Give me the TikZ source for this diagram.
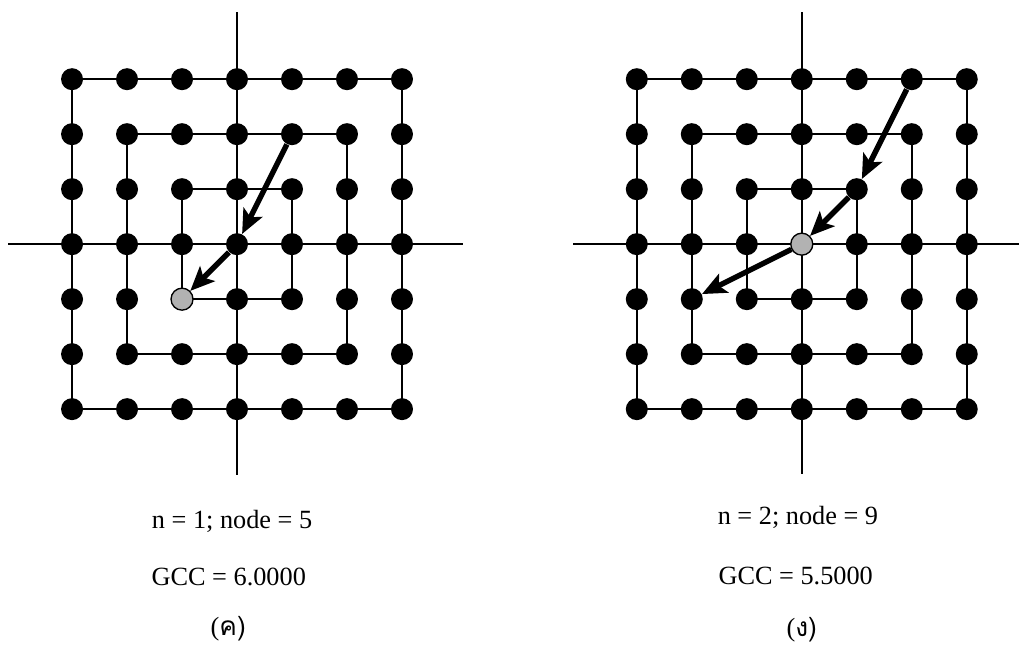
\documentclass[tikz,border=0pt]{standalone}
\usepackage{fontspec}
\setmainfont{Liberation Serif}
\newfontfamily\thaifont[Script=Thai]{Loma}
\usetikzlibrary{arrows.meta,backgrounds}

\begin{document}
\begin{tikzpicture}[
    dot/.style={circle,fill=black,inner sep=0pt,minimum size=0.4cm},
    hot/.style={dot,fill=black!30,draw=black,line width=0.7pt},
    a-2-2/.style={hot},
    b-3-3/.style={hot},
    grid line/.style={line width=1.1pt},
    flow/.style={line width=2.8pt,-{Stealth[length=0.44cm,width=0.38cm,inset=0.1cm]}},
    lab/.style={font=\fontsize{13.6}{16}\selectfont}]
  \useasboundingbox (-4.31,-7.36) rectangle (14.22,4.44);
  % left panel (n = 1)
  \begin{scope}
    \foreach \i in {0,...,6}
      \foreach \j in {0,...,6}
        \node[dot,a-\i-\j/.try] (a-\i-\j) at (\i-3,\j-3) {};
    \coordinate (a-n) at (0,4.22);
    \coordinate (a-s) at (0,-4.2);
    \coordinate (a-w) at (-4.16,0);
    \coordinate (a-e) at (4.11,0);
    \begin{scope}[on background layer]
      \draw[grid line] (a-n) -- (a-s) (a-w) -- (a-e);
      \foreach \lo/\hi in {0/6,1/5,2/4}
        \draw[grid line] (a-\lo-\lo.center) -- (a-\hi-\lo.center)
          -- (a-\hi-\hi.center) -- (a-\lo-\hi.center) -- cycle;
    \end{scope}
    \draw[flow] (a-4-5) -- (a-3-3);
    \draw[flow] (a-3-3) -- (a-2-2);
    \node[lab] (a-t1) at (-0.09,-5.05) {n = 1; node = 5};
    \node[lab] (a-t2) at (-0.15,-6.05) {GCC = 6.0000};
    \node[lab] (a-t3) at (-0.16,-7.0) {(\thaifont ค)};
  \end{scope}
  % right panel (n = 2)
  \begin{scope}[xshift=10.27cm]
    \foreach \i in {0,...,6}
      \foreach \j in {0,...,6}
        \node[dot,b-\i-\j/.try] (b-\i-\j) at (\i-3,\j-3) {};
    \coordinate (b-n) at (0,4.22);
    \coordinate (b-s) at (0,-4.18);
    \coordinate (b-w) at (-4.16,0);
    \coordinate (b-e) at (3.95,0);
    \begin{scope}[on background layer]
      \draw[grid line] (b-n) -- (b-s) (b-w) -- (b-e);
      \foreach \lo/\hi in {0/6,1/5,2/4}
        \draw[grid line] (b-\lo-\lo.center) -- (b-\hi-\lo.center)
          -- (b-\hi-\hi.center) -- (b-\lo-\hi.center) -- cycle;
    \end{scope}
    \draw[flow] (b-5-6) -- (b-4-4);
    \draw[flow] (b-4-4) -- (b-3-3);
    \draw[flow] (b-3-3) -- (b-1-2);
    \node[lab] (b-t1) at (-0.07,-4.96) {n = 2; node = 9};
    \node[lab] (b-t2) at (-0.11,-6.04) {GCC = 5.5000};
    \node[lab] (b-t3) at (0,-7.02) {(\thaifont ง)};
  \end{scope}
\end{tikzpicture}
\end{document}
